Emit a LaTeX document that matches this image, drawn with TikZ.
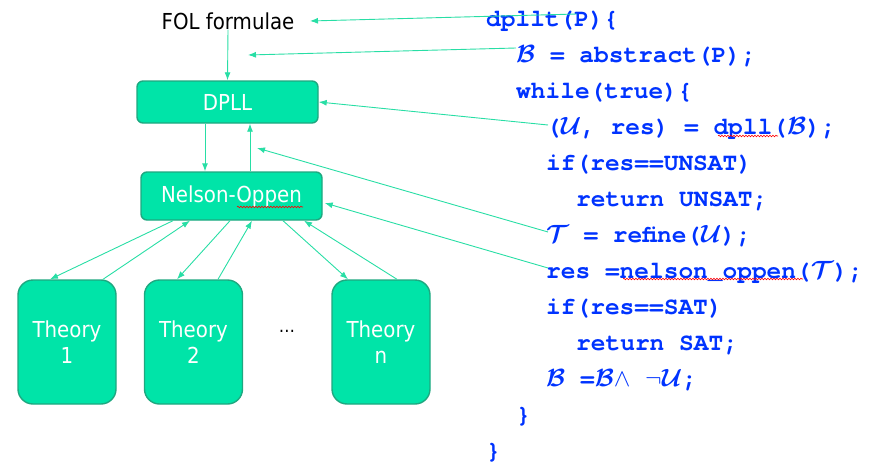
\documentclass[tikz,border=0pt]{standalone}
\usepackage{amsmath,bm}
\usepackage{fontspec}
\setmainfont{DejaVu Sans Condensed}
\setmonofont{TeX Gyre Cursor}
\usetikzlibrary{arrows.meta,decorations.pathmorphing}
\definecolor{boxfill}{RGB}{0,228,168}
\definecolor{boxline}{RGB}{30,168,128}
\definecolor{arrcol}{RGB}{40,222,165}
\definecolor{codeblue}{RGB}{0,51,255}
\tikzset{
 box/.style={draw=boxline, line width=1.4pt, fill=boxfill, rounded corners=6pt, text=white, font=\fontsize{22}{26.4}\selectfont, align=center, inner sep=0pt},
 thbox/.style={box, rounded corners=15pt, minimum width=98pt, minimum height=124pt},
 mainbox/.style={box, minimum width=181pt},
 arr/.style={draw=arrcol, line width=0.9pt, -{Latex[length=8pt,width=6pt]}},
 code/.style={anchor=base west, inner sep=0pt, text=codeblue, font=\fontsize{24.5}{28}\selectfont\ttfamily\bfseries},
 wavy/.style={draw=red, line width=0.6pt, decorate, decoration={snake, amplitude=0.8pt, segment length=3pt}},
 lbl/.style={font=\fontsize{22}{26.4}\selectfont, inner sep=0pt}
}
\newcommand{\cB}{\mbox{\fontsize{28}{30}\selectfont$\bm{\mathcal{B}}$}}
\newcommand{\cU}{\mbox{\fontsize{28}{30}\selectfont$\bm{\mathcal{U}}$}}
\newcommand{\cT}{\mbox{\fontsize{28}{30}\selectfont$\bm{\mathcal{T}}$}}
\begin{document}
\begin{tikzpicture}[x=1pt,y=-1pt]
\useasboundingbox (0,0) rectangle (892,463);
% left diagram
\node[lbl] (fol) at (228,21) {FOL formulae};
\node[mainbox, minimum height=42pt] (dpll) at (227.5,102) {DPLL};
\node[mainbox, minimum height=48pt] (no) at (231.5,196) {Nelson-Oppen};
\node[thbox] (t1) at (67,342) {Theory\\1};
\node[thbox] (t2) at (193.5,342) {Theory\\2};
\node[thbox] (tn) at (381,342) {Theory\\n};
\node[lbl, font=\fontsize{18}{20}\selectfont] (dots) at (287,331) {…};
\draw[wavy] (237,207) -- (303,207);

\draw[arr] (fol.south) -- (dpll.north);
\draw[arr] (dpll.south -| 205,0) -- (no.north -| 205,0);
\draw[arr] (no.north -| 250,0) -- (dpll.south -| 250,0);
\draw[arr] (no.south -| 173,0) -- (t1.north -| 50,0);
\draw[arr] (t1.north -| 103,0) -- (no.south -| 190,0);
\draw[arr] (no.south -| 230,0) -- (t2.north -| 177,0);
\draw[arr] (t2.north -| 218,0) -- (no.south -| 252,0);
\draw[arr] (no.south -| 283,0) -- (tn.north -| 348,0);
\draw[arr] (tn.north -| 397,0) -- (no.south -| 304,0);

% code
\node[code] (c1) at (486,26) {dpllt(P)\{};
\node[code] (c2) at (516,62) {\cB{} = abstract(P);};
\node[code] (c3) at (516,98) {while(true)\{};
\node[code] (c4) at (546,134) {(\cU, res) = dpll(\cB);};
\node[code] (c5) at (546,170) {if(res==UNSAT)};
\node[code] (c6) at (576,206) {return UNSAT;};
\node[code] (c7) at (546,242) {\cT{} = refine(\cU);};
\node[code] (c8) at (546,278) {res =nelson\_oppen(\cT);};
\node[code] (c9) at (546,314) {if(res==SAT)};
\node[code] (c10) at (576,350) {return SAT;};
\node[code] (c11) at (546,386) {\cB{} =\cB$\wedge$ $\neg$\cU;};
\node[code] (c12) at (516,422) {\}};
\node[code] (c13) at (486,458) {\}};
\draw[wavy] (718,136) -- (778,136);
\draw[wavy] (623,279) -- (803,279);

% code arrows
\coordinate (s1) at (577,14);
\coordinate (s2) at (516,48);
\coordinate (s3) at (548,125);
\coordinate (s4) at (548,232);
\coordinate (s5) at (548,268);
\coordinate (e1) at (310,21);
\coordinate (e2) at (248,55);
\coordinate (e4) at (257,148);
\draw[arr] (s1) -- (e1);
\draw[arr] (s2) -- (e2);
\draw[arr] (s3) -- (dpll.east);
\draw[arr] (s4) -- (e4);
\draw[arr] (s5) -- ([shift={(2,7)}]no.east);
\end{tikzpicture}
\end{document}
